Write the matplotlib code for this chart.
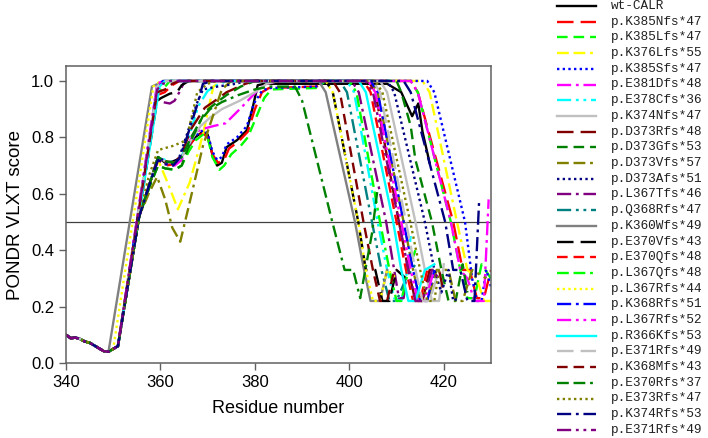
import matplotlib
matplotlib.use("Agg")
import matplotlib.pyplot as plt
from matplotlib.lines import Line2D

# shared N-terminal stretch (residue, score)
nterm = [(340, .10), (341, .088), (342, .09), (343, .085), (344, .076), (345, .072),
         (346, .062), (347, .052), (348, .042), (349, .04), (350, .05), (351, .06)]

# per-variant profiles after the shared stretch
wt = [(355.5, .52), (357.8, .64), (359.5, .73), (361, .71), (362.7, .715), (364, .725),
      (365.5, .755), (367.3, .80), (369, .82), (370, .81), (371, .74), (372, .70), (373, .71),
      (374, .765), (376.2, .79), (378.3, .825), (379.6, .91), (380.6, .985), (382, .99),
      (408, .99), (410, .97), (411, .96), (413.3, .875), (414.6, .92), (415.5, .82), (417, .71)]
k385n = [(355.5, .52), (357.8, .64), (359.5, .72), (361, .70), (363, .705), (364.5, .72),
         (366, .77), (367.5, .80), (369, .815), (370, .80), (371, .74), (372.2, .71), (373.5, .72),
         (374.5, .76), (376.5, .785), (378.5, .82), (380, .90), (381.5, .96), (383, .975),
         (393, .98), (395, 1.0), (413, 1.0), (414.5, .96), (422, .5), (424, .33), (425.5, .33),
         (427, .23), (428.5, .23), (430, .33)]
k385l = [(355.5, .52), (357.8, .63), (359.5, .70), (361, .69), (363, .685), (364.5, .70),
         (366, .75), (367.5, .79), (369, .81), (370, .80), (371, .73), (372.5, .685), (373.5, .70),
         (375, .74), (377, .77), (378.5, .80), (380.5, .88), (382, .94), (383.5, .97),
         (393, .975), (395, 1.0), (413, 1.0), (414.5, .96), (421.5, .5), (423.5, .33), (425, .23),
         (426.5, .23), (428, .35), (430, .30)]
k376l = [(355.5, .52), (357.8, .64), (359.5, .72), (361.5, .64), (363.7, .545), (366.2, .64),
         (369, .81), (371.2, .98), (373, 1.0), (415.5, 1.0), (417, .96), (422.8, .5), (425, .33),
         (427, .30), (428.5, .22), (430, .22)]
k385s = [(355.5, .52), (357.8, .64), (359.5, .73), (361, .715), (362.7, .705), (364, .72),
         (365.5, .76), (367.3, .805), (369, .825), (370, .815), (371, .75), (372, .72), (373, .73),
         (374, .775), (376.2, .80), (378.3, .84), (379.8, .92), (381.5, .965), (383, .975),
         (393, .98), (395, 1.0), (416.5, 1.0), (418, .96), (424.5, .5), (426, .30), (427, .22),
         (428, .22), (429, .33), (430, .27)]
e381d = [(355.5, .52), (357.8, .64), (359.5, .72), (361, .705), (363, .70), (364.5, .72),
         (367, .815), (369, .83), (371.2, .84), (373.8, .85), (376.8, .90), (378.5, .93),
         (380.5, .965), (382.5, .99), (385, 1.0), (413, 1.0), (414.5, .96), (421.5, .5),
         (423.5, .33), (425, .30), (426.5, .22), (428.5, .22), (429.5, .58)]
e378c = [(355.5, .52), (357.8, .64), (359.5, .73), (361, .72), (363, .71), (364.5, .73),
         (366, .80), (368, .91), (370, .965), (372, .985), (374, 1.0), (399.5, 1.0), (401, .96),
         (406, .5), (408, .33), (409.5, .23), (411, .22), (412, .30), (413, .45)]
k374n = [(355.5, .52), (357.8, .64), (359.5, .73), (361, .715), (363, .71), (364.5, .73),
         (366.5, .79), (368.5, .84), (370.5, .87), (373, .90), (376.8, .93), (380, .96),
         (382.5, .99), (385, 1.0), (406.5, 1.0), (408, .96), (414, .5), (416, .33), (417.5, .22),
         (419, .22), (420, .35)]
d373r = [(355.5, .52), (357.8, .64), (359.5, .73), (361, .715), (363, .71), (364.5, .74),
         (366.5, .83), (369.4, .905), (372, .935), (374, .96), (378, .99), (380, 1.0), (404, 1.0),
         (405.5, .96), (410.5, .5), (412.5, .33), (414, .22), (415.5, .22), (417, .33), (419, .33),
         (420, .25)]
d373g = [(355.5, .52), (357.8, .63), (359.5, .70), (361, .69), (363, .685), (364.5, .70),
         (366.5, .79), (369.4, .89), (372, .925), (374, .95), (377, .98), (380, 1.0), (410, 1.0),
         (411, .96), (413, .84), (414, .72), (417.5, .5), (419.5, .33), (421, .22), (422.5, .22),
         (424, .35), (425, .25)]
d373v = [(355.5, .52), (357.5, .60), (359.3, .66), (361, .58), (362.5, .48), (364.2, .43),
         (366.2, .57), (369, .77), (370, .82), (371.6, .90), (373, .97), (375, 1.0), (404.5, 1.0),
         (406, .96), (411.5, .5), (413.5, .33), (415, .22), (416.5, .22), (418.5, .33), (421, .33),
         (422.5, .22), (424, .22), (426, .33), (429, .30)]
d373a = [(355.5, .52), (357.8, .64), (359.5, .73), (361, .715), (362.7, .705), (364, .73),
         (365.6, .81), (367.7, .92), (369, .97), (372, .98), (376, .99), (378, 1.0), (408, 1.0),
         (409.5, .96), (416, .5), (418, .33), (419.5, .25), (421, .33), (422, .22), (423, .23)]
l367t = [(359.3, .94), (360.5, .925), (362, .92), (363, .93), (364, .96), (365, .995),
         (366, 1.0), (400.5, 1.0), (402, .96), (407.8, .5), (409.5, .33), (410.5, .23),
         (411.5, .23), (412, .30)]
q368r = [(359.3, .97), (360.5, .99), (362, 1.0), (398, 1.0), (399.5, .96), (404.8, .5),
         (406.8, .33), (408.5, .22), (410, .22), (412, .30), (414, .35)]
k360w = [(358.2, .98), (359.5, .99), (361, 1.0), (393.5, 1.0), (395, .96), (401.2, .5),
         (403, .34), (404.5, .22), (406.5, .22), (408, .33)]
e370v = [(359.3, .93), (360.2, .94), (362, .955), (363.5, .96), (364.5, .985), (366, 1.0),
         (395, 1.0), (396.5, .96), (401.9, .5), (403.5, .33), (405.5, .33), (407, .22),
         (408.5, .22), (410, .33), (412, .30)]
e370q = [(359.3, .95), (360.9, .96), (362.5, .985), (364, 1.0), (403, 1.0), (404.5, .96),
         (410, .5), (412, .33), (413.5, .22), (415, .22), (416.5, .33), (417, .33)]
l367q = [(359.3, .96), (361, .98), (362, 1.0), (400, 1.0), (401.5, .96), (406.5, .5),
         (408.5, .33), (410, .22), (411, .22), (412.5, .33), (414, .40)]
l367r44 = [(358.5, .98), (360, 1.0), (395, 1.0), (396.5, .96), (401.9, .5), (403.5, .33),
           (405, .22), (406.5, .22), (408, .33), (410, .30)]
k368r = [(359.3, .98), (360.5, 1.0), (404.5, 1.0), (406, .96), (411.5, .5), (413.5, .33),
         (415, .22), (416.5, .22), (418, .33)]
l367r52 = [(359.3, .99), (360.5, 1.0), (404, 1.0), (405.5, .96), (411, .5), (413, .33),
           (414.5, .22), (416, .22), (418, .33)]
r366k = [(359.8, .98), (361, 1.0), (402, 1.0), (403.5, .96), (409.3, .5), (411, .33),
         (412.5, .22), (414, .22), (416, .33), (418, .35)]
e371r_a = [(359.3, .98), (360.5, 1.0), (405, 1.0), (406.5, .96), (412, .5), (414, .33),
           (415.5, .22), (417, .22), (419, .33)]
k368m = [(359.3, .96), (361, .97), (362.5, .99), (364, 1.0), (396.5, 1.0), (398, .96),
         (403, .5), (405, .33), (406.5, .22), (408, .22), (409.5, .33), (410, .33)]
e370r = [(355.5, .52), (357.8, .64), (359.5, .73), (361, .715), (363, .71), (364.5, .73),
         (366.5, .80), (368.5, .86), (370.5, .90), (373, .925), (376.5, .95), (380, .97),
         (383, .98), (388.5, .98), (390, .93), (396.4, .5), (399, .33), (400.8, .33),
         (402.3, .23), (404.8, .46), (406, .62)]
e373r = [(355.5, .52), (357.5, .66), (359.5, .755), (362.7, .77), (365.5, .79), (367.8, .96),
         (370, .99), (372, 1.0), (405.5, 1.0), (407, .96), (412.9, .5), (415, .33), (416.5, .22),
         (418, .22), (419, .33)]
k374r = [(355.5, .52), (357.8, .64), (359.5, .72), (361, .705), (362.7, .70), (364, .725),
         (365.6, .80), (367.7, .91), (369, .99), (371, 1.0), (411.5, 1.0), (413, .96),
         (420.3, .5), (422, .33), (423.5, .33), (425, .22), (426.5, .22), (427.5, .58)]
e371r_b = [(359.3, .97), (360.5, .99), (362, 1.0), (403.5, 1.0), (405, .96), (410.5, .5),
           (412.5, .33), (414, .22), (415.5, .22), (417.5, .33), (419, .30)]

labels = ["wt-CALR", "p.K385Nfs*47", "p.K385Lfs*47", "p.K376Lfs*55", "p.K385Sfs*47",
          "p.E381Dfs*48", "p.E378Cfs*36", "p.K374Nfs*47", "p.D373Rfs*48", "p.D373Gfs*53",
          "p.D373Vfs*57", "p.D373Afs*51", "p.L367Tfs*46", "p.Q368Rfs*47", "p.K360Wfs*49",
          "p.E370Vfs*43", "p.E370Qfs*48", "p.L367Qfs*48", "p.L367Rfs*44", "p.K368Rfs*51",
          "p.L367Rfs*52", "p.R366Kfs*53", "p.E371Rfs*49", "p.K368Mfs*43", "p.E370Rfs*37",
          "p.E373Rfs*47", "p.K374Rfs*53", "p.E371Rfs*49"]
series = [wt, k385n, k385l, k376l, k385s, e381d, e378c, k374n, d373r, d373g, d373v, d373a,
          l367t, q368r, k360w, e370v, e370q, l367q, l367r44, k368r, l367r52, r366k, e371r_a,
          k368m, e370r, e373r, k374r, e371r_b]
# how many shared N-terminal points each series uses
nterm_len = [12] * 28
nterm_len[14] = 10   # K360Wfs leaves the shared stretch early
nterm_len[18] = 11   # L367Rfs*44

# SigmaPlot style cycling
palette = ["#000000", "#ff0000", "#00ff00", "#ffff00", "#0000ff", "#ff00ff", "#00ffff",
           "#c0c0c0", "#800000", "#008000", "#808000", "#000080", "#800080", "#008080",
           "#808080"]
styles = ["-", (0, (7, 3)), (0, (4.5, 2.5)), (0, (5, 2, 5, 2, 1.2, 2)), (0, (1, 1.4)),
          (0, (6, 2, 1.2, 2)), (0, (6, 2, 1.2, 2, 1.2, 2))]

plt.rcParams["font.family"] = ["Liberation Sans", "DejaVu Sans"]
fig = plt.figure(figsize=(7.08, 4.38), dpi=100)
ax = fig.add_axes([0.0932, 0.1712, 0.6003, 0.6781])

for i, pts in enumerate(series):
    full = nterm[:nterm_len[i]] + pts
    xs = [p[0] for p in full]
    ys = [p[1] for p in full]
    ax.plot(xs, ys, color=palette[i % 15], ls=styles[i % 7], lw=1.7)

ax.axhline(0.5, color="#404040", lw=0.9, zorder=0)
ax.set_xlim(340, 430)
ax.set_ylim(0, 1.053)
ax.set_xticks([340, 360, 380, 400, 420])
ax.set_yticks([0, .2, .4, .6, .8, 1.0])
ax.set_yticklabels(["0.0", "0.2", "0.4", "0.6", "0.8", "1.0"])
ax.tick_params(direction="out", length=5, width=1, color="#606060", labelsize=12)
for s in ax.spines.values():
    s.set_color("#606060")
    s.set_linewidth(1.1)
ax.set_xlabel("Residue number", fontsize=13, labelpad=7)
ax.set_ylabel("PONDR VLXT score", fontsize=13.5, labelpad=5)

# legend drawn row by row at the right of the plot
for i, lab in enumerate(labels):
    y = 1 - (6 + i * 15.7) / 438
    fig.add_artist(Line2D([557 / 708, 596 / 708], [y, y], transform=fig.transFigure,
                          color=palette[i % 15], ls=styles[i % 7], lw=1.7))
    fig.text(611 / 708, y, lab, fontsize=9.2, family="Liberation Mono", va="center",
             color="#202020")

fig.savefig("out.png", dpi=100)
